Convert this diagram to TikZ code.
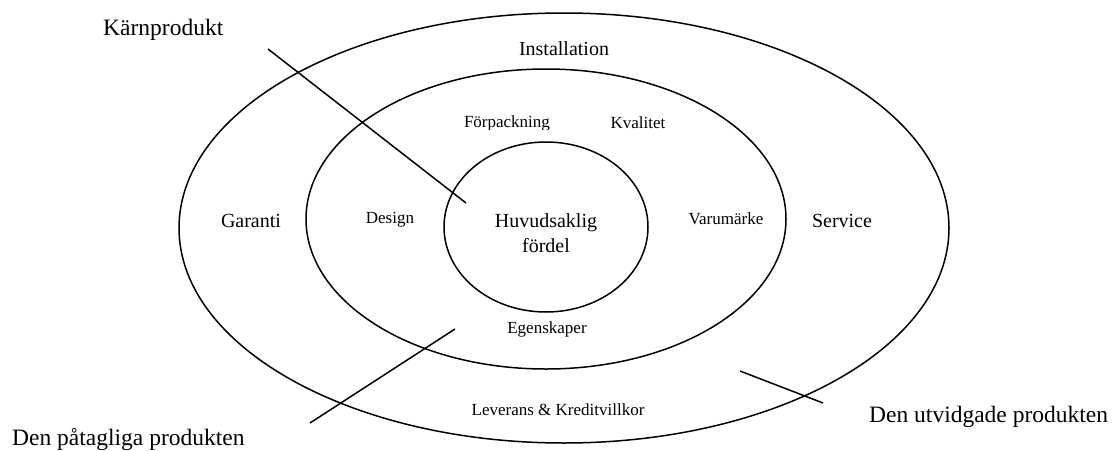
\documentclass[tikz,border=0pt]{standalone}
\usepackage{fontspec}
\setmainfont{Liberation Serif}
\usetikzlibrary{shapes.geometric}
\begin{document}
\begin{tikzpicture}[x=1pt,y=-1pt,
  ring/.style={draw, ellipse, line width=1.5pt, inner sep=0pt},
  lead/.style={line width=1.5pt},
  bigl/.style={font=\fontsize{23.5}{28}\selectfont, inner sep=0pt, anchor=base},
  midl/.style={font=\fontsize{20}{25}\selectfont, inner sep=0pt, anchor=base},
  smalll/.style={font=\fontsize{17}{21}\selectfont, inner sep=0pt, anchor=base}]
\useasboundingbox (0,0) rectangle (1114,450);

% three product levels
\node[ring, minimum width=770pt, minimum height=430pt] (outer) at (564,228) {};
\node[ring, minimum width=480pt, minimum height=300pt] (middle) at (546,219) {};
\node[ring, minimum width=204pt, minimum height=170pt] (inner) at (546,227) {};

% core (base anchor sits on the last line)
\node[midl, align=center] (core) at (546,252) {Huvudsaklig\\fördel};

% tangible product
\begin{scope}
  \clip (440,100) rectangle (580,129);
  \node[smalll] (forp) at (507,127) {Förpackning};
\end{scope}
\node[smalll] (kval) at (638,128) {Kvalitet};
\node[smalll] (design) at (390,223) {Design};
\node[smalll] (varum) at (726,224) {Varumärke};
\node[smalll] (egen) at (547,333) {Egenskaper};

% augmented product
\node[midl] (inst) at (564,55) {Installation};
\node[midl] (gar) at (251,227) {Garanti};
\node[midl] (serv) at (842,227) {Service};
\node[smalll] (lev) at (558,415) {Leverans \& Kreditvillkor};

% level labels and leader lines
\node[bigl, anchor=base west] (karn) at (103,35) {Kärnprodukt};
\node[bigl, anchor=base west] (patag) at (12,445) {Den påtagliga produkten};
\node[bigl, anchor=base west] (utv) at (869,422) {Den utvidgade produkten};

\coordinate (k1) at (268,49);
\coordinate (k2) at (466,203);
\coordinate (p1) at (310,423);
\coordinate (p2) at (455,329);
\coordinate (u1) at (740,371);
\coordinate (u2) at (823,403);
\draw[lead] (k1) -- (k2);
\draw[lead] (p1) -- (p2);
\draw[lead] (u1) -- (u2);
\end{tikzpicture}
\end{document}
